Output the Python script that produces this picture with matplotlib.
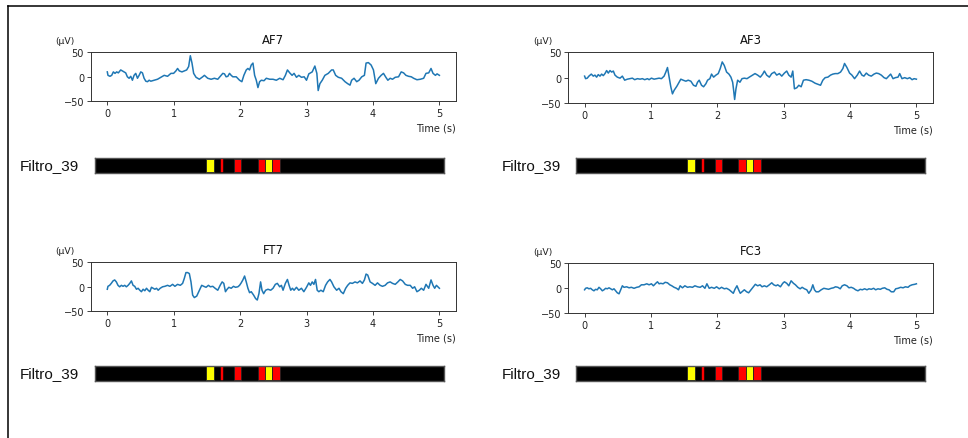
import numpy as np
import matplotlib
matplotlib.use("Agg")
import matplotlib.pyplot as plt
from matplotlib.lines import Line2D

# ---------------- data ----------------
channels = ["AF7", "AF3", "FT7", "FC3"]
filter_label = "Filtro_39"

af7_t = [0.0, 0.01, 0.04, 0.066, 0.091, 0.116, 0.141, 0.166, 0.202, 0.227, 0.252, 0.277, 0.302, 0.328,
         0.353, 0.378, 0.403, 0.428, 0.454, 0.479, 0.504, 0.529, 0.554, 0.580, 0.605, 0.630, 0.655, 0.706,
         0.756, 0.806, 0.857, 0.907, 0.958, 0.998, 1.033, 1.058, 1.084, 1.124, 1.159, 1.195, 1.225, 1.250,
         1.275, 1.300, 1.336, 1.386, 1.436, 1.462, 1.512, 1.563, 1.613, 1.663, 1.714, 1.739, 1.764, 1.789,
         1.815, 1.840, 1.865, 1.890, 1.941, 1.991, 2.026, 2.056, 2.092, 2.117, 2.142, 2.167, 2.193, 2.218,
         2.243, 2.268, 2.293, 2.319, 2.359, 2.394, 2.445, 2.495, 2.545, 2.596, 2.646, 2.681, 2.712, 2.747,
         2.782, 2.812, 2.848, 2.883, 2.923, 2.964, 2.999, 3.034, 3.085, 3.125, 3.155, 3.175, 3.201, 3.236,
         3.276, 3.327, 3.377, 3.402, 3.438, 3.478, 3.528, 3.579, 3.619, 3.654, 3.679, 3.715, 3.755, 3.790,
         3.831, 3.871, 3.896, 3.931, 3.972, 4.007, 4.042, 4.083, 4.123, 4.158, 4.194, 4.224, 4.259, 4.294,
         4.335, 4.385, 4.425, 4.461, 4.496, 4.536, 4.577, 4.612, 4.662, 4.713, 4.763, 4.798, 4.839, 4.874,
         4.904, 4.940, 4.965, 5.0]
af7_v = [10, 3, 1, 3, 10, 7, 10, 8, 14, 12, 10, 8, 0, -3,
         1, -7, 3, 7, -3, 3, 10, 8, -3, -9, -10, -7, -9, -7,
         -5, -1, 3, 1, 7, 7, 12, 17, 12, 10, 12, 14, 21, 43,
         28, 7, -1, -5, 0, 3, -3, -5, -3, -5, 3, 7, 6, 0,
         1, 7, 3, 0, 0, -7, -10, 3, 14, 17, 14, 24, 28, 3,
         -7, -22, -10, -7, -8, -3, -5, -5, -7, -3, -6, 3, 14, 8,
         3, 7, -1, 3, -1, 0, -7, 6, 10, 22, 7, -28, -14, -7,
         3, 7, 14, 14, 3, -1, -3, -10, -14, -17, -7, -3, -10, -7,
         0, 3, 28, 29, 24, 14, -14, -3, 3, 7, -1, -7, -3, -5,
         -1, 0, 10, 8, 3, 1, 0, -3, -6, -5, -3, 7, 8, 17,
         7, 3, 6, 3]

af3_t = [0.0, 0.015, 0.040, 0.065, 0.101, 0.131, 0.156, 0.181, 0.206, 0.232, 0.257, 0.282, 0.307, 0.332,
         0.357, 0.383, 0.408, 0.433, 0.458, 0.493, 0.534, 0.569, 0.604, 0.644, 0.685, 0.720, 0.755, 0.796,
         0.836, 0.871, 0.906, 0.947, 0.972, 1.007, 1.047, 1.088, 1.123, 1.158, 1.198, 1.224, 1.249, 1.274,
         1.299, 1.324, 1.349, 1.390, 1.425, 1.450, 1.485, 1.526, 1.561, 1.601, 1.641, 1.677, 1.702, 1.727,
         1.762, 1.793, 1.828, 1.853, 1.888, 1.913, 1.944, 1.979, 2.014, 2.044, 2.074, 2.105, 2.140, 2.175,
         2.205, 2.231, 2.246, 2.261, 2.281, 2.306, 2.341, 2.372, 2.407, 2.447, 2.482, 2.533, 2.568, 2.608,
         2.648, 2.684, 2.709, 2.744, 2.784, 2.820, 2.860, 2.895, 2.935, 2.971, 3.011, 3.046, 3.077, 3.112,
         3.137, 3.162, 3.197, 3.228, 3.263, 3.298, 3.338, 3.379, 3.424, 3.474, 3.515, 3.555, 3.590, 3.625,
         3.666, 3.706, 3.741, 3.776, 3.817, 3.857, 3.892, 3.917, 3.953, 3.993, 4.028, 4.068, 4.109, 4.144,
         4.179, 4.209, 4.245, 4.280, 4.320, 4.361, 4.396, 4.431, 4.471, 4.512, 4.547, 4.582, 4.612, 4.648,
         4.683, 4.723, 4.748, 4.783, 4.824, 4.864, 4.899, 4.935, 4.965, 5.0]
af3_v = [3, -2, -1, 3, 7, 3, 5, 1, 6, 3, 7, 4, 8, 14,
         9, 14, 11, 13, 5, 1, -1, 3, -5, -3, -2, -1, -4, -2,
         -3, -2, -4, -2, -4, -1, -3, -2, -1, -2, 3, 11, 20, 1,
         -18, -32, -25, -17, -9, -3, -5, -7, -5, -7, -15, -17, -9, -5,
         -15, -18, -12, -5, -2, 7, 1, 5, 8, 18, 31, 24, 11, 7,
         1, -9, -25, -43, -22, -5, -9, -2, -1, -2, 1, 5, 8, 5,
         1, 7, 13, 5, 1, 8, 11, 5, 8, 3, 9, 13, 5, 1,
         13, -22, -20, -15, -18, -5, -4, -5, -7, -11, -13, -15, -5, 0,
         1, 5, 7, 8, 8, 11, 18, 28, 20, 9, 5, -2, 5, 13,
         5, 3, 9, 5, 3, 7, 9, 8, 5, 0, -2, 3, 7, -2,
         0, 1, 8, -2, 0, -2, 0, -4, -2, -3]

ft7_t = [0.0, 0.01, 0.035, 0.06, 0.086, 0.111, 0.136, 0.161, 0.186, 0.212, 0.237, 0.262, 0.287, 0.313,
         0.338, 0.363, 0.388, 0.413, 0.439, 0.464, 0.489, 0.514, 0.539, 0.565, 0.590, 0.615, 0.640, 0.665,
         0.691, 0.716, 0.741, 0.766, 0.796, 0.832, 0.867, 0.907, 0.943, 0.983, 1.018, 1.058, 1.099, 1.134,
         1.159, 1.184, 1.210, 1.235, 1.260, 1.285, 1.310, 1.346, 1.386, 1.421, 1.452, 1.487, 1.522, 1.552,
         1.588, 1.623, 1.663, 1.699, 1.729, 1.754, 1.779, 1.804, 1.830, 1.865, 1.900, 1.930, 1.966, 1.991,
         2.016, 2.041, 2.067, 2.092, 2.117, 2.142, 2.167, 2.203, 2.233, 2.258, 2.283, 2.308, 2.329, 2.354,
         2.384, 2.419, 2.460, 2.495, 2.530, 2.560, 2.596, 2.621, 2.646, 2.681, 2.712, 2.737, 2.762, 2.787,
         2.812, 2.848, 2.883, 2.923, 2.959, 2.999, 3.034, 3.059, 3.085, 3.110, 3.135, 3.160, 3.185, 3.216,
         3.251, 3.286, 3.317, 3.352, 3.377, 3.412, 3.453, 3.488, 3.518, 3.553, 3.589, 3.619, 3.654, 3.690,
         3.730, 3.765, 3.805, 3.841, 3.871, 3.896, 3.921, 3.957, 3.992, 4.032, 4.068, 4.108, 4.143, 4.183,
         4.219, 4.259, 4.294, 4.335, 4.375, 4.410, 4.446, 4.486, 4.521, 4.561, 4.597, 4.627, 4.662, 4.698,
         4.728, 4.763, 4.798, 4.839, 4.874, 4.904, 4.929, 4.955, 5.0]
ft7_v = [-5, 1, 3, 7, 12, 14, 10, 3, 0, 3, 1, 3, 0, 3,
         7, 12, 3, 1, -5, -3, -7, -10, -5, -8, -3, -7, -10, -1,
         -3, -5, -3, -7, -3, 0, 1, 3, 1, 5, 1, 5, 3, 7,
         17, 29, 29, 27, 10, -17, -22, -19, -7, 3, 1, -1, 3, 0,
         1, -3, -7, 3, 10, 7, -10, -5, -1, -3, 1, -1, 0, 3,
         8, 14, 22, 10, -3, -12, -10, -17, -24, -27, -14, 10, -7, -14,
         -7, -5, -7, -3, 5, 7, 0, 3, -7, 7, 15, 3, -7, -3,
         -7, -1, -7, -3, -10, -1, 8, 3, 10, 5, 15, -7, -10, -7,
         -10, 3, 10, 15, 10, 0, -7, -3, -10, -14, -3, 3, 8, 7,
         10, 8, 12, 7, 14, 26, 24, 10, 7, 3, 8, 3, 1, 3,
         8, 10, 7, 5, 10, 15, 12, 5, 3, 3, -3, 0, -10, -7,
         -3, -7, 5, -3, 14, 3, -3, 3, -3]

fc3_t = [0.0, 0.015, 0.040, 0.065, 0.091, 0.116, 0.141, 0.166, 0.191, 0.217, 0.242, 0.267, 0.292, 0.317,
         0.342, 0.368, 0.393, 0.418, 0.443, 0.468, 0.493, 0.519, 0.544, 0.569, 0.594, 0.634, 0.670, 0.705,
         0.745, 0.785, 0.821, 0.856, 0.896, 0.937, 0.972, 1.007, 1.037, 1.073, 1.098, 1.123, 1.148, 1.183,
         1.214, 1.249, 1.284, 1.314, 1.349, 1.385, 1.415, 1.440, 1.475, 1.511, 1.551, 1.586, 1.626, 1.662,
         1.702, 1.742, 1.777, 1.813, 1.843, 1.878, 1.913, 1.954, 1.989, 2.029, 2.064, 2.105, 2.140, 2.180,
         2.216, 2.241, 2.266, 2.296, 2.321, 2.346, 2.372, 2.407, 2.442, 2.472, 2.508, 2.543, 2.573, 2.608,
         2.644, 2.674, 2.709, 2.744, 2.784, 2.820, 2.850, 2.885, 2.910, 2.951, 2.986, 3.011, 3.046, 3.077,
         3.112, 3.147, 3.177, 3.213, 3.248, 3.278, 3.313, 3.348, 3.379, 3.414, 3.439, 3.464, 3.489, 3.525,
         3.565, 3.605, 3.640, 3.676, 3.716, 3.751, 3.781, 3.817, 3.852, 3.882, 3.917, 3.953, 3.983, 4.018,
         4.053, 4.084, 4.119, 4.154, 4.184, 4.220, 4.255, 4.285, 4.320, 4.355, 4.386, 4.421, 4.456, 4.486,
         4.522, 4.557, 4.587, 4.622, 4.658, 4.688, 4.723, 4.763, 4.799, 4.834, 4.874, 4.899, 4.935, 4.975,
         5.0]
fc3_v = [-3, 0, 1, -1, 0, -3, -5, -2, -3, 2, -1, -5, -3, 0,
         -1, 1, -1, -3, -1, -5, -9, -11, -3, 5, 2, 3, 1, 2,
         0, 2, 3, 7, 7, 9, 7, 9, 5, 10, 13, 9, 10, 9,
         12, 11, 7, 5, 2, 0, -3, 5, 1, 5, 2, 3, 2, 5,
         3, 2, 5, 0, 9, 0, 2, 0, 3, -1, 2, -1, 0, -3,
         -7, -10, -2, 5, -3, -10, -7, -3, -7, -9, -3, 3, 8, 5,
         7, 3, 5, 3, 7, 11, 7, 5, 7, 3, 10, 13, 10, 5,
         15, 10, 7, 2, -1, 2, -1, -3, -10, -3, 7, -3, -7, -7,
         -3, 0, -1, -2, 0, 1, 3, 2, -1, 5, 7, 5, 1, 2,
         0, -3, -5, -2, -3, -1, -3, -1, -2, 0, -3, -1, -2, 0,
         1, -2, -3, -7, -7, -1, 0, 2, 1, 3, 2, 5, 7, 8,
         9]

series_t = [af7_t, af3_t, ft7_t, fc3_t]
series_v = [af7_v, af3_v, ft7_v, fc3_v]

x_ticks = [0, 1, 2, 3, 4, 5]
y_ticks = [-50, 0, 50]

# filter segments (seconds) and their colours
seg_start = [1.595, 1.81, 1.99, 2.33, 2.44, 2.54]
seg_end = [1.705, 1.83, 2.09, 2.44, 2.54, 2.65]
seg_color = ["yellow", "red", "red", "red", "yellow", "red"]

# ---------------- layout ----------------
W, H = 968, 439
fig = plt.figure(figsize=(W / 100, H / 100), dpi=100)
fig.patch.set_facecolor("white")

def fx(px):
    return px / W

def fy(py):
    return 1 - py / H

plot_boxes = [  # left, top, right, bottom in pixels
    (90.7, 53.3, 456, 102.3),
    (568, 53.3, 933, 104),
    (90.7, 263.3, 456, 312.3),
    (568, 264.3, 933, 314.3),
]
bar_boxes = [
    (95, 159.3, 444, 173.7),
    (575.7, 159.3, 925, 173.7),
    (95, 366.7, 444, 381.7),
    (575.7, 366.7, 925, 381.7),
]
label_x = [20, 501.5, 20, 501.5]

fs = 7.0
for i, ch in enumerate(channels):
    l, t, r, b = plot_boxes[i]
    ax = fig.add_axes([fx(l), fy(b), fx(r) - fx(l), fy(t) - fy(b)])
    ax.plot(series_t[i], series_v[i], color="#1f77b4", lw=1.1)
    ax.set_xlim(-0.25, 5.25)
    ax.set_ylim(-50, 50)
    ax.set_xticks(x_ticks)
    ax.set_yticks(y_ticks)
    ax.tick_params(labelsize=fs, length=2.6, width=0.6, pad=2.2, colors="#222222")
    for sp in ax.spines.values():
        sp.set_linewidth(0.7)
        sp.set_color("#333333")
    ax.set_title(ch, fontsize=fs * 1.2, pad=6.5, color="#111111")
    ax.text(-0.07, 1.24, "(µV)", transform=ax.transAxes, fontsize=fs * 0.95,
            ha="center", va="center", color="#222222")
    ax.text(1.0, -0.53, "Time (s)", transform=ax.transAxes, fontsize=fs,
            ha="right", va="center", color="#222222")

    # filter bar
    l, t, r, b = bar_boxes[i]
    bx = fig.add_axes([fx(l), fy(b), fx(r) - fx(l), fy(t) - fy(b)])
    bx.set_facecolor("black")
    bx.set_xlim(0, 5)
    bx.set_ylim(0, 1)
    bx.set_xticks([])
    bx.set_yticks([])
    for sp in bx.spines.values():
        sp.set_color("#555555")
        sp.set_linewidth(1.0)
    for s0, s1, c in zip(seg_start, seg_end, seg_color):
        thin = (s1 - s0) < 0.05
        bx.axvspan(s0, s1, ymin=0.04, ymax=0.96, facecolor=c,
                   edgecolor=c if thin else "#222222", lw=0.3 if thin else 0.6)
    fig.text(fx(label_x[i]), fy((t + b) / 2), filter_label, fontsize=11,
             family=["Liberation Sans", "DejaVu Sans"], ha="left", va="center", color="#111111")

# frame lines (top and left)
fig.add_artist(Line2D([fx(8), 1.0], [fy(7), fy(7)], color="black", lw=1.1))
fig.add_artist(Line2D([fx(8), fx(8)], [fy(7), 0.0], color="black", lw=1.1))

fig.savefig("out.png", dpi=100, facecolor="white")
